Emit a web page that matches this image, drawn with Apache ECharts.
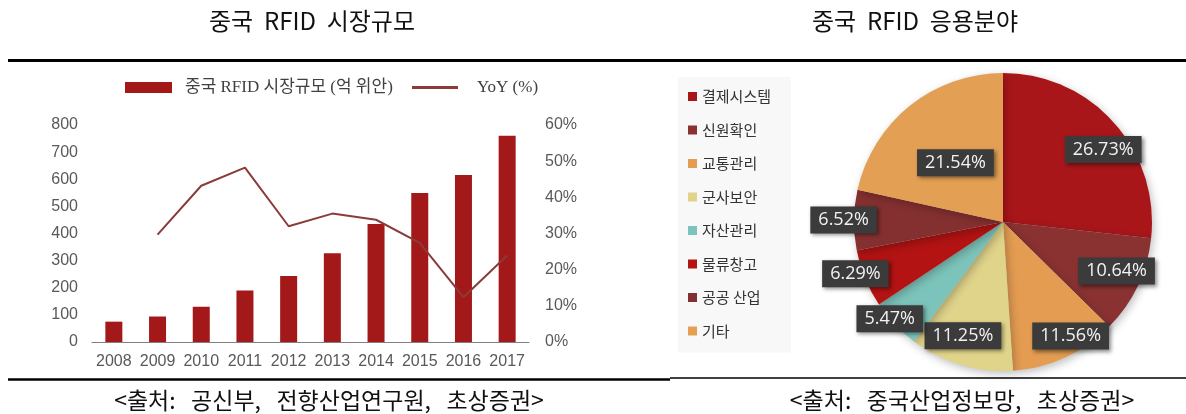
<!DOCTYPE html>
<html>
<head>
  <meta charset="UTF-8">
  <title>중국 RFID</title>
  <script src="https://cdn.jsdelivr.net/npm/echarts@6/dist/echarts.min.js"></script>
  <style>
    html, body { margin: 0; padding: 0; background: #fff; }
    #main { width: 1186px; height: 414px; }
  </style>
</head>
<body>
<div id="main"></div>
<script>
  // 시장규모 데이터
  var years = ['2008', '2009', '2010', '2011', '2012', '2013', '2014', '2015', '2016', '2017'];
  var marketSize = [75, 94, 130, 190, 243, 327, 435, 549, 616, 760];   // 억 위안
  var yoy = [null, 29.7, 43.2, 48.2, 32.0, 35.5, 33.8, 27.4, 12.4, 23.9]; // %

  // 응용분야 데이터
  var sectors = ['결제시스템', '신원확인', '교통관리', '군사보안', '자산관리', '물류창고', '공공 산업', '기타'];
  var shares = [26.73, 10.64, 11.56, 11.25, 5.47, 6.29, 6.52, 21.54];

  var sectorColors = ['#a8161a', '#8a3232', '#e39c52', '#e0d38a', '#7cc4bb', '#b31313', '#853030', '#e3a055'];

  // 파이 위치, 라벨 배치(반지름 비율, 각도 보정)
  var PIE_CX = 1003, PIE_CY = 222, PIE_R = 149;
  var labelRadius = [0.83, 0.83, 0.89, 0.81, 1.0, 1.05, 1.07, 0.51];
  var labelTurn = [6, -2, -6, 3, 3, 3, 0, 0];

  var total = shares.reduce(function (a, b) { return a + b; }, 0);

  var axisText = { color: '#595959', fontSize: 16, fontFamily: 'Liberation Sans, Arial' };
  var hangul = '"Noto Sans CJK KR", sans-serif';
  var legendFont = { color: '#404040', fontSize: 17, fontFamily: '"Liberation Serif", "Noto Sans CJK KR"' };
  var headFont = '24px "Noto Sans CJK KR"';
  var srcFont = '23px "Noto Sans CJK KR"';

  var option = {
    backgroundColor: '#fff',
    animation: false,
    legend: [{
      data: ['중국 RFID 시장규모 (억 위안)'],
      left: 120, top: 74,
      itemWidth: 47, itemHeight: 11,
      icon: 'rect',
      textStyle: Object.assign({ padding: [0, 0, 0, 8] }, legendFont)
    }, {
      data: ['YoY (%)'],
      left: 407, top: 74,
      itemWidth: 46, itemHeight: 3,
      icon: 'rect',
      textStyle: Object.assign({ padding: [0, 0, 0, 14] }, legendFont)
    }, {
      data: sectors,
      orient: 'vertical',
      left: 678, top: 77,
      padding: [12, 20, 14, 10],
      backgroundColor: '#f8f8f8',
      icon: 'rect',
      itemWidth: 9, itemHeight: 9,
      itemGap: 18.5,
      textStyle: { color: '#333', fontSize: 15, lineHeight: 15, fontFamily: hangul }
    }],
    grid: { left: 92, top: 125, width: 437, height: 217 },
    xAxis: {
      type: 'category',
      data: years,
      axisLine: { lineStyle: { color: '#808080', width: 1 } },
      axisTick: { inside: true, length: 5, lineStyle: { color: '#808080' } },
      axisLabel: Object.assign({ margin: 12, interval: 0 }, axisText)
    },
    yAxis: [{
      type: 'value', min: 0, max: 800, interval: 100,
      axisLine: { show: false }, axisTick: { show: false }, splitLine: { show: false },
      axisLabel: Object.assign({ margin: 14 }, axisText)
    }, {
      type: 'value', min: 0, max: 60, interval: 10,
      axisLine: { show: false }, axisTick: { show: false }, splitLine: { show: false },
      axisLabel: Object.assign({ margin: 16, formatter: '{value}%' }, axisText)
    }],
    series: [{
      name: '중국 RFID 시장규모 (억 위안)',
      type: 'bar',
      data: marketSize,
      barWidth: 17,
      z: 3,
      itemStyle: { color: '#a31818' }
    }, {
      name: 'YoY (%)',
      type: 'line',
      yAxisIndex: 1,
      data: yoy,
      symbol: 'none',
      z: 4,
      lineStyle: { color: '#8c3a3a', width: 2 },
      itemStyle: { color: '#8c3a3a' }
    }, {
      name: '응용분야',
      type: 'pie',
      center: [PIE_CX, PIE_CY],
      radius: [0, PIE_R],
      startAngle: 90,
      clockwise: true,
      data: sectors.map(function (n, i) {
        return { name: n, value: shares[i], itemStyle: { color: sectorColors[i] } };
      }),
      itemStyle: { shadowBlur: 8, shadowColor: 'rgba(0,0,0,0.25)', shadowOffsetX: 2, shadowOffsetY: 3 },
      emphasis: { scale: false },
      labelLine: { show: false },
      label: {
        show: true,
        position: 'inside',
        formatter: function (p) { return p.value.toFixed(2) + '%'; },
        color: '#f2f2f2',
        fontSize: 18,
        fontFamily: '"Open Sans", "Noto Sans"',
        backgroundColor: '#3b3b3b',
        padding: [5, 8, 4, 8],
        shadowBlur: 4,
        shadowColor: 'rgba(0,0,0,0.45)',
        shadowOffsetX: 2,
        shadowOffsetY: 2
      },
      labelLayout: function (p) {
        var i = p.dataIndex;
        var start = 0;
        for (var k = 0; k < i; k++) start += shares[k];
        var mid = (start + shares[i] / 2) / total * 2 * Math.PI + labelTurn[i] * Math.PI / 180;
        var R = PIE_R * labelRadius[i];
        return { x: PIE_CX + R * Math.sin(mid), y: PIE_CY - R * Math.cos(mid) };
      }
    }],
    graphic: [
      { type: 'text', x: 312, y: 21, style: { text: '중국  RFID  시장규모', font: headFont, fill: '#111', textAlign: 'center', textVerticalAlign: 'middle' } },
      { type: 'text', x: 915, y: 21, style: { text: '중국  RFID  응용분야', font: headFont, fill: '#111', textAlign: 'center', textVerticalAlign: 'middle' } },
      { type: 'line', shape: { x1: 8, y1: 60.5, x2: 1186, y2: 60.5 }, style: { stroke: '#000', lineWidth: 3 } },
      { type: 'line', shape: { x1: 8, y1: 379.5, x2: 670, y2: 379.5 }, style: { stroke: '#000', lineWidth: 2.5 } },
      { type: 'line', shape: { x1: 670, y1: 378, x2: 1186, y2: 378 }, style: { stroke: '#000', lineWidth: 1.5 } },
      { type: 'text', x: 329, y: 400, style: { text: '<출처:   공신부,   전향산업연구원,   초상증권>', font: srcFont, fill: '#111', textAlign: 'center', textVerticalAlign: 'middle' } },
      { type: 'text', x: 962, y: 400, style: { text: '<출처:   중국산업정보망,   초상증권>', font: srcFont, fill: '#111', textAlign: 'center', textVerticalAlign: 'middle' } }
    ]
  };

  echarts.init(document.getElementById('main')).setOption(option);
</script>
</body>
</html>
